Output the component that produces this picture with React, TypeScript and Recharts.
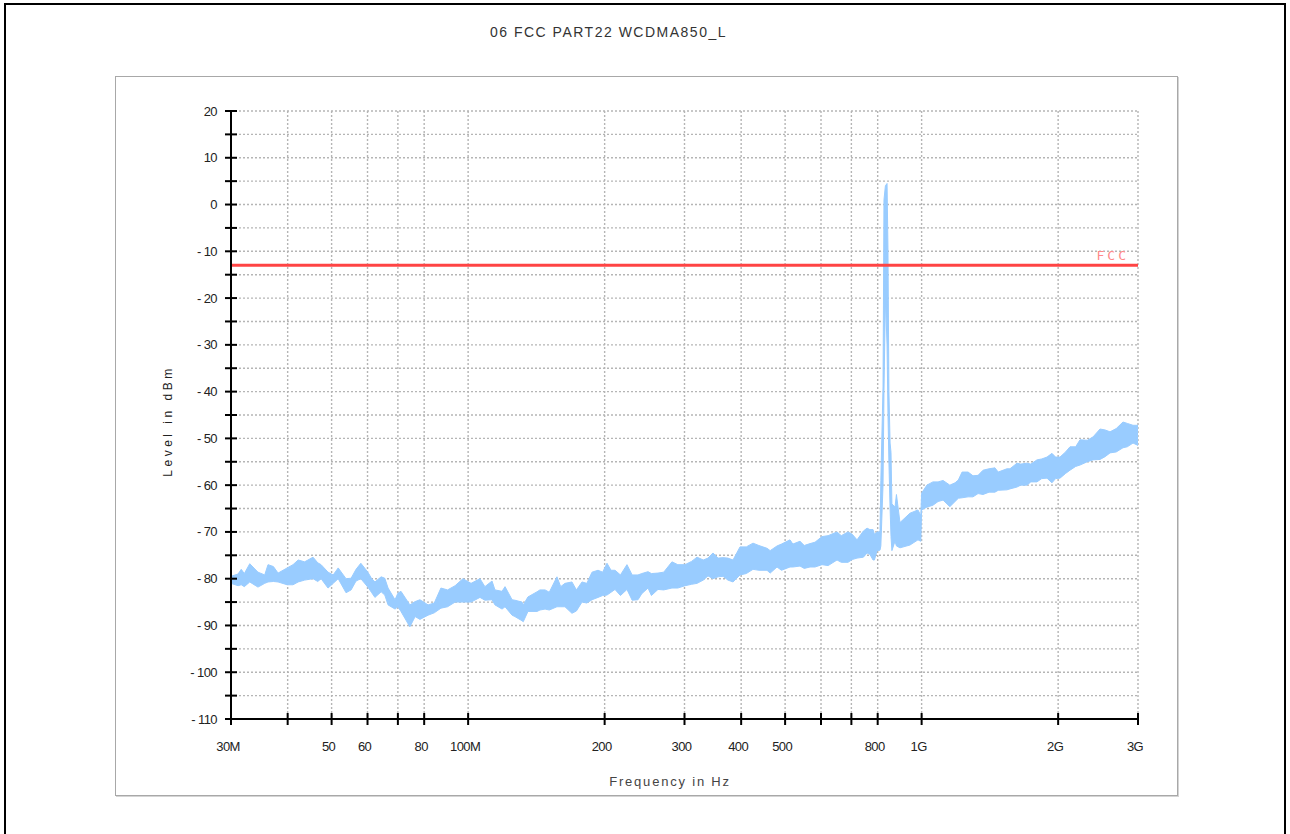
import React from 'react';
import { ComposedChart, Area, XAxis, YAxis, CartesianGrid, ReferenceLine, Label } from 'recharts';

// trace: frequency in MHz, lower and upper edge of the noisy band in dBm
const freqMHz = [
  30, 31.1, 31.6, 32.1, 33, 34.4, 35.6, 36.2, 37.2, 38.1,
  39.9, 41.1, 42.2, 43.6, 45.5, 46.6, 47.4, 49.1, 50.4, 51.7,
  53.8, 55.2, 56.6, 58, 60.1, 61.2, 62.3, 64.3, 65.5, 66.6,
  69, 70, 71.1, 74.4, 76.4, 78.3, 81.6, 84.2, 87.1, 90.1,
  93.6, 97.4, 101.5, 106.2, 108.9, 112.9, 114.6, 118.8, 120.6, 125,
  126.8, 131.5, 132.3, 135.5, 141.9, 144, 147.8, 151, 157, 160,
  163.5, 169.4, 173.3, 178.3, 182.7, 187.6, 193.4, 198, 202.4, 206.6,
  210.8, 216.7, 224, 230, 236.9, 241.5, 249.3, 253.6, 262.2, 270,
  281.5, 290, 300.8, 311, 319.7, 330, 338, 346.7, 355.7, 364.8,
  374, 383.8, 397.7, 410.6, 424.8, 437.6, 456.1, 463.5, 479.9, 490.8,
  512.6, 520, 539.3, 551, 567.4, 582, 603, 622, 650.8, 665,
  688.2, 703, 720.4, 744, 758, 769, 781.4, 787, 797.5, 809.4,
  813, 822, 826, 832, 839, 843, 847, 852, 856, 860,
  873.5, 880, 895.9, 942.6, 981.6, 996, 1000, 1027, 1059, 1087,
  1115, 1154, 1185, 1205, 1228, 1266, 1298, 1332, 1366, 1408,
  1451, 1475, 1542, 1566, 1623, 1654, 1707, 1741, 1796, 1840,
  1890, 1938, 1974, 2019, 2077, 2124, 2186, 2235, 2319, 2387,
  2474, 2539, 2603, 2686, 2780, 2841, 2925, 3000,
];
const levelLow = [
  -81, -81.5, -81.3, -81.7, -80.7, -81.8, -81, -80.7, -80.6, -80.7,
  -81.3, -81.3, -80.7, -80.3, -80, -80.6, -80, -82, -81, -80,
  -83, -82.4, -80.5, -80, -81.8, -82.9, -84, -82.8, -83.5, -85.6,
  -86.5, -86, -87, -90.3, -88.1, -88.7, -87.8, -87.3, -86.3, -86,
  -85, -85, -85, -84, -84.6, -84.5, -85.6, -86.5, -86, -87.8,
  -88.1, -89, -89.2, -87, -87, -86.7, -86.5, -86.7, -86, -86,
  -86, -87.4, -86.9, -85, -85.2, -84.5, -84, -83.6, -83.5, -82.9,
  -82.3, -83.6, -82.3, -84.6, -84.5, -83.2, -82, -83.6, -82.3, -82.4,
  -82, -82, -81.5, -81.2, -81, -80.3, -79.4, -80, -79.6, -79.5,
  -80.3, -80.7, -79.2, -78.9, -78, -78.2, -78.2, -78.8, -77.5, -78.2,
  -77.5, -77.5, -77.3, -77.8, -77.5, -77.5, -77, -77.2, -76, -76.5,
  -76.5, -75.9, -75.6, -75.4, -74.5, -74.8, -76, -76, -74, -73.9,
  -73, -60, -40, -20, -30, -45, -55, -65, -71, -74,
  -72, -73, -73.4, -72.8, -71.7, -72, -65.3, -64.7, -64.3, -63.5,
  -63.2, -64.6, -63.5, -62.8, -62.7, -62.5, -62.5, -61.8, -62, -61.5,
  -61.5, -61.1, -61, -60.8, -60.4, -60, -60, -59.3, -59.3, -58.6,
  -58.5, -59.5, -58.6, -58.5, -57.5, -56.8, -56, -55.7, -55, -54.6,
  -54.5, -53.9, -53.1, -52.9, -52, -51.8, -51, -51.5,
];
const levelHigh = [
  -79.5, -79, -78, -78.9, -76.8, -78.6, -79.2, -77, -77.4, -78.8,
  -77.7, -77, -76, -76.4, -75.4, -76.6, -77, -78.6, -79.2, -77.7,
  -80, -79.9, -78, -76.7, -78.6, -79.9, -80.7, -79.6, -79.9, -82,
  -84.5, -83.1, -82.7, -85.6, -84.9, -84.5, -85.6, -85.2, -82, -82.4,
  -81.5, -80, -81, -80, -81.7, -80.5, -82.4, -82.7, -81.7, -84.5,
  -84.6, -85, -85.6, -83.9, -82.8, -82.4, -82.4, -82.9, -79.6, -81.7,
  -81, -80.7, -82.4, -80.7, -81, -78.6, -78.2, -78.6, -76.7, -78.2,
  -78.2, -79.2, -77, -79.2, -79.2, -78.9, -78.5, -78.9, -78.8, -78.6,
  -76.4, -77, -77, -76.3, -75.4, -76, -75.6, -74.5, -75.6, -75.5,
  -75.6, -76, -73.2, -73.2, -72.4, -72.9, -73.5, -74, -73, -72.6,
  -71.7, -72.6, -72, -72.9, -72.5, -72.2, -71, -70.8, -70, -70.8,
  -70, -70.5, -71.7, -69.8, -69.2, -69.5, -69.5, -70.5, -70, -70,
  -59, -39, 1, 4, 4.5, -10, -40, -51, -53, -64,
  -64.7, -62, -68, -66, -65.3, -66.5, -61.7, -60, -59.3, -59.3,
  -59, -60, -59.5, -58.9, -57.2, -57.2, -58, -57.9, -56.8, -56.5,
  -56.3, -57.2, -56.5, -56.5, -55.3, -55.5, -55.3, -55.5, -54.6, -54.4,
  -54, -53.2, -54, -54, -52.9, -51.8, -51.8, -50.3, -50.4, -49.7,
  -48, -48.2, -48.6, -47.9, -46.5, -46.8, -47.2, -47.2,
];

const fccLimit = -13;

const xTicks = [30, 40, 50, 60, 70, 80, 100, 200, 300, 400, 500, 600, 700, 800, 1000, 2000, 3000];
const xTickLabels: Record<number, string> = {
  30: '30M', 50: '50', 60: '60', 80: '80', 100: '100M', 200: '200', 300: '300', 400: '400',
  500: '500', 800: '800', 1000: '1G', 2000: '2G', 3000: '3G',
};
const yTicks = [
  -110, -105, -100, -95, -90, -85, -80, -75, -70, -65, -60, -55, -50, -45, -40, -35, -30, -25,
  -20, -15, -10, -5, 0, 5, 10, 15, 20,
];

const rows = freqMHz.map((f, i) => ({ f, range: [levelLow[i], levelHigh[i]] }));

const tickFont = { fontFamily: '"Liberation Sans", Arial, sans-serif', fontSize: 13, fill: '#222' };

const YTick = (props: any) => {
  const { x, y, payload } = props;
  const v = payload.value;
  const txt = v < 0 ? `- ${Math.abs(v)}` : `${v}`;
  return (
    <g>
      <line x1={x - 6} x2={x + 6} y1={y} y2={y} stroke="#000" strokeWidth={2} />
      {v % 10 === 0 && (
        <text x={x - 14} y={y} dy={4.5} textAnchor="end" letterSpacing={-0.6} {...tickFont}>
          {txt}
        </text>
      )}
    </g>
  );
};

const XTick = (props: any) => {
  const { x, y, payload } = props;
  const txt = xTickLabels[payload.value];
  return (
    <g>
      <line x1={x} x2={x} y1={y - 6} y2={y + 6} stroke="#000" strokeWidth={2} />
      {txt && (
        <text x={x - 3} y={y + 32} textAnchor="middle" letterSpacing={-0.6} {...tickFont}>
          {txt}
        </text>
      )}
    </g>
  );
};

const FccLabel = (props: any) => {
  const { viewBox } = props;
  if (!viewBox) return null;
  return (
    <text
      x={viewBox.x + viewBox.width - 9}
      y={viewBox.y - 5}
      textAnchor="end"
      fontFamily='"DejaVu Sans Mono", monospace'
      fontSize={13}
      letterSpacing={3}
      fill="#ff8a8a"
    >
      FCC
    </text>
  );
};

const App = () => {
  return (
    <div style={{ position: 'absolute', left: 0, top: 0, width: 1290, height: 834, overflow: 'hidden', background: '#fff' }}>
      <div
        style={{
          position: 'absolute', left: 4, top: 3, width: 1282, height: 840,
          border: '2px solid #000', boxSizing: 'border-box',
        }}
      />
      <div
        style={{
          position: 'absolute', left: 115, top: 76, width: 1063, height: 720,
          border: '1px solid #a8a8a8', boxShadow: '1px 1px 0 #d4d4d4', boxSizing: 'border-box',
        }}
      />
      <div
        style={{
          position: 'absolute', left: 490, top: 24, fontFamily: '"Liberation Sans", Arial, sans-serif',
          fontSize: 14, letterSpacing: 1.5, color: '#333', whiteSpace: 'nowrap',
        }}
      >
        06 FCC PART22 WCDMA850_L
      </div>
      <div
        style={{
          position: 'absolute', left: 168, top: 421, transform: 'translate(-50%, -50%) rotate(-90deg)',
          fontFamily: '"Liberation Sans", Arial, sans-serif', fontSize: 12, letterSpacing: 3.5,
          color: '#222', whiteSpace: 'nowrap',
        }}
      >
        Level in dBm
      </div>
      <div
        style={{
          position: 'absolute', left: 670, top: 781, transform: 'translate(-50%, -50%)',
          fontFamily: '"Liberation Sans", Arial, sans-serif', fontSize: 13, letterSpacing: 1.8,
          color: '#444', whiteSpace: 'nowrap',
        }}
      >
        Frequency in Hz
      </div>
      <div style={{ position: 'absolute', left: 0, top: 0 }}>
        <ComposedChart width={1290} height={834} data={rows} margin={{ top: 111, right: 152, bottom: 75, left: 171 }}>
          <CartesianGrid stroke="#b5b5b5" strokeDasharray="2 2" strokeWidth={1.4} />
          <XAxis
            dataKey="f"
            type="number"
            scale="log"
            domain={[30, 3000]}
            ticks={xTicks}
            interval={0}
            allowDataOverflow
            height={40}
            tickSize={0}
            tickMargin={0}
            tickLine={false}
            axisLine={{ stroke: '#000', strokeWidth: 2 }}
            tick={<XTick />}
          />
          <YAxis
            type="number"
            domain={[-110, 20]}
            ticks={yTicks}
            interval={0}
            allowDataOverflow
            width={60}
            tickSize={0}
            tickMargin={0}
            tickLine={false}
            axisLine={{ stroke: '#000', strokeWidth: 2 }}
            tick={<YTick />}
          />
          <ReferenceLine y={fccLimit} stroke="#ff4444" strokeWidth={3}>
            <Label content={<FccLabel />} />
          </ReferenceLine>
          <Area
            dataKey="range"
            type="linear"
            stroke="#99ccff"
            strokeWidth={1}
            fill="#99ccff"
            fillOpacity={1}
            isAnimationActive={false}
            dot={false}
            activeDot={false}
          />
        </ComposedChart>
      </div>
    </div>
  );
};

export default App;
